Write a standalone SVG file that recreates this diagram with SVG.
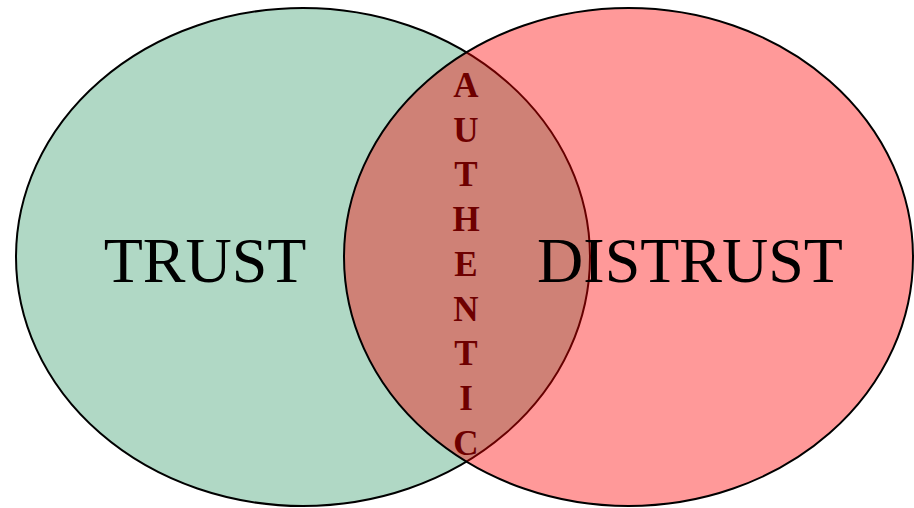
<svg xmlns="http://www.w3.org/2000/svg" width="914" height="508" viewBox="0 0 914 508">
  <style>
    .set { stroke: #000; stroke-width: 2; }
    .label { font-family: "Liberation Serif", "Times New Roman", serif; font-size: 64px; fill: #000; text-anchor: middle; }
    .vert { font-family: "Liberation Serif", "Times New Roman", serif; font-size: 35px; font-weight: bold; fill: #6e0000; text-anchor: middle; }
  </style>
  <rect width="914" height="508" fill="#fff"/>
  <g id="trust">
    <ellipse class="set" cx="303" cy="257" rx="287" ry="249" fill="#b0d8c5"/>
    <text class="label" x="205" y="282">TRUST</text>
  </g>
  <g id="distrust">
    <ellipse class="set" cx="628.5" cy="257" rx="284.5" ry="249" fill="#ff0000" fill-opacity="0.4"/>
    <text class="label" x="690" y="282">DISTRUST</text>
  </g>
  <g id="authentic">
    <text class="vert" x="466" y="97">A</text>
    <text class="vert" x="466" y="142">U</text>
    <text class="vert" x="466" y="186">T</text>
    <text class="vert" x="466" y="231">H</text>
    <text class="vert" x="466" y="276">E</text>
    <text class="vert" x="466" y="321">N</text>
    <text class="vert" x="466" y="365">T</text>
    <text class="vert" x="466" y="410">I</text>
    <text class="vert" x="466" y="455">C</text>
  </g>
  <g id="connectors"></g>
</svg>
